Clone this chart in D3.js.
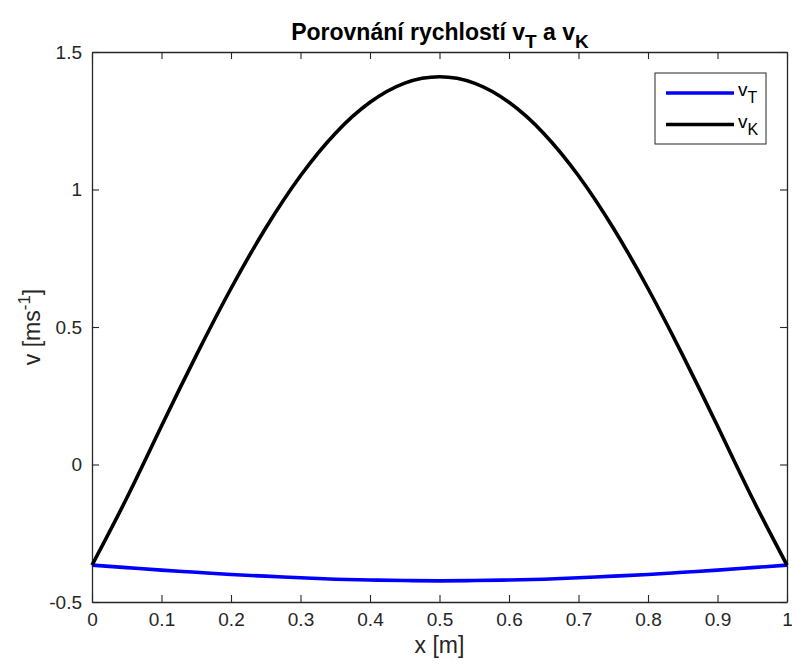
<!DOCTYPE html>
<html>
<head>
<meta charset="utf-8">
<script src="https://cdn.jsdelivr.net/npm/d3@7"></script>
<style>
  html, body { margin: 0; padding: 0; background: #fff; }
  svg { display: block; }
  text { font-family: "Liberation Sans", Arial, Helvetica, sans-serif; }
</style>
</head>
<body>
<svg id="chart" width="792" height="668"></svg>
<script>
// ---- data ----
const xValues = [0, 0.05, 0.10, 0.15, 0.20, 0.25, 0.30, 0.35, 0.40, 0.45, 0.50,
                 0.55, 0.60, 0.65, 0.70, 0.75, 0.80, 0.85, 0.90, 0.95, 1.00];
const vT = [-0.366, -0.375, -0.384, -0.392, -0.400, -0.406, -0.412, -0.417, -0.420, -0.422, -0.423,
            -0.422, -0.420, -0.417, -0.412, -0.406, -0.400, -0.392, -0.384, -0.375, -0.366];
const vK = [-0.366, -0.122, 0.140, 0.397, 0.640, 0.860, 1.050, 1.204, 1.317, 1.387, 1.410,
            1.387, 1.317, 1.204, 1.050, 0.860, 0.640, 0.397, 0.140, -0.122, -0.366];
const xTicks = [0, 0.1, 0.2, 0.3, 0.4, 0.5, 0.6, 0.7, 0.8, 0.9, 1];
const yTicks = [-0.5, 0, 0.5, 1, 1.5];
const seriesNames = ["T", "K"];
const seriesColors = ["#0000ff", "#000000"];

const svg = d3.select("#chart");
const L = 92, R = 787, T = 52, B = 602;
const axisColor = "#262626";

const x = d3.scaleLinear().domain([0, 1]).range([L, R]);
const y = d3.scaleLinear().domain([-0.5, 1.5]).range([B, T]);

const fmt = d => String(d);

// axes with inward ticks on all four sides
const tickLen = 7;
const gB = svg.append("g").attr("transform", `translate(0,${B})`)
  .call(d3.axisBottom(x).tickValues(xTicks).tickFormat(fmt).tickSizeInner(-tickLen).tickSizeOuter(0).tickPadding(11));
const gT = svg.append("g").attr("transform", `translate(0,${T})`)
  .call(d3.axisTop(x).tickValues(xTicks).tickFormat("").tickSizeInner(-tickLen).tickSizeOuter(0));
const gL = svg.append("g").attr("transform", `translate(${L},0)`)
  .call(d3.axisLeft(y).tickValues(yTicks).tickFormat(fmt).tickSizeInner(-tickLen).tickSizeOuter(0).tickPadding(10));
const gR = svg.append("g").attr("transform", `translate(${R},0)`)
  .call(d3.axisRight(y).tickValues(yTicks).tickFormat("").tickSizeInner(-tickLen).tickSizeOuter(0));

[gB, gT, gL, gR].forEach(g => {
  g.select(".domain").attr("stroke", axisColor).attr("stroke-width", 1.3);
  g.selectAll(".tick line").attr("stroke", axisColor).attr("stroke-width", 1.1);
  g.selectAll(".tick text").attr("fill", axisColor).style("font-size", "19px")
   .style("font-family", '"Liberation Sans", Arial, sans-serif');
});

// lines
const line = d3.line().x((d, i) => x(xValues[i])).y(d => y(d)).curve(d3.curveNatural);
[vT, vK].forEach((s, k) => {
  svg.append("path").datum(s).attr("d", line)
    .attr("fill", "none").attr("stroke", seriesColors[k])
    .attr("stroke-width", 3.6).attr("stroke-linejoin", "round");
});

// title
const title = svg.append("text").attr("x", 440).attr("y", 40)
  .attr("text-anchor", "middle").attr("fill", "#000")
  .style("font-size", "23px").style("font-weight", "bold");
title.append("tspan").text("Porovnání rychlostí v");
title.append("tspan").attr("dy", 8).style("font-size", "19px").text("T");
title.append("tspan").attr("dy", -8).text(" a v");
title.append("tspan").attr("dy", 8).style("font-size", "19px").text("K");

// x label
svg.append("text").attr("x", (L + R) / 2).attr("y", 653)
  .attr("text-anchor", "middle").attr("fill", axisColor)
  .style("font-size", "23px").text("x [m]");

// y label
const yl = svg.append("text").attr("transform", `translate(40,${(T + B) / 2}) rotate(-90)`)
  .attr("text-anchor", "middle").attr("fill", axisColor).style("font-size", "23px");
yl.append("tspan").text("v [ms");
yl.append("tspan").attr("dy", -10).style("font-size", "17px").text("-1");
yl.append("tspan").attr("dy", 10).text("]");

// legend
const lg = svg.append("g");
lg.append("rect").attr("x", 655).attr("y", 73).attr("width", 111).attr("height", 71)
  .attr("fill", "#fff").attr("stroke", axisColor).attr("stroke-width", 1);
seriesNames.forEach((n, i) => {
  const yy = 93 + i * 31.5;
  lg.append("line").attr("x1", 666).attr("x2", 734).attr("y1", yy).attr("y2", yy)
    .attr("stroke", seriesColors[i]).attr("stroke-width", 3.6);
  const t = lg.append("text").attr("x", 738).attr("y", yy + 3).attr("fill", "#000")
    .style("font-size", "19px");
  t.append("tspan").text("v");
  t.append("tspan").attr("dy", 7).style("font-size", "16px").text(n);
});
</script>
</body>
</html>
